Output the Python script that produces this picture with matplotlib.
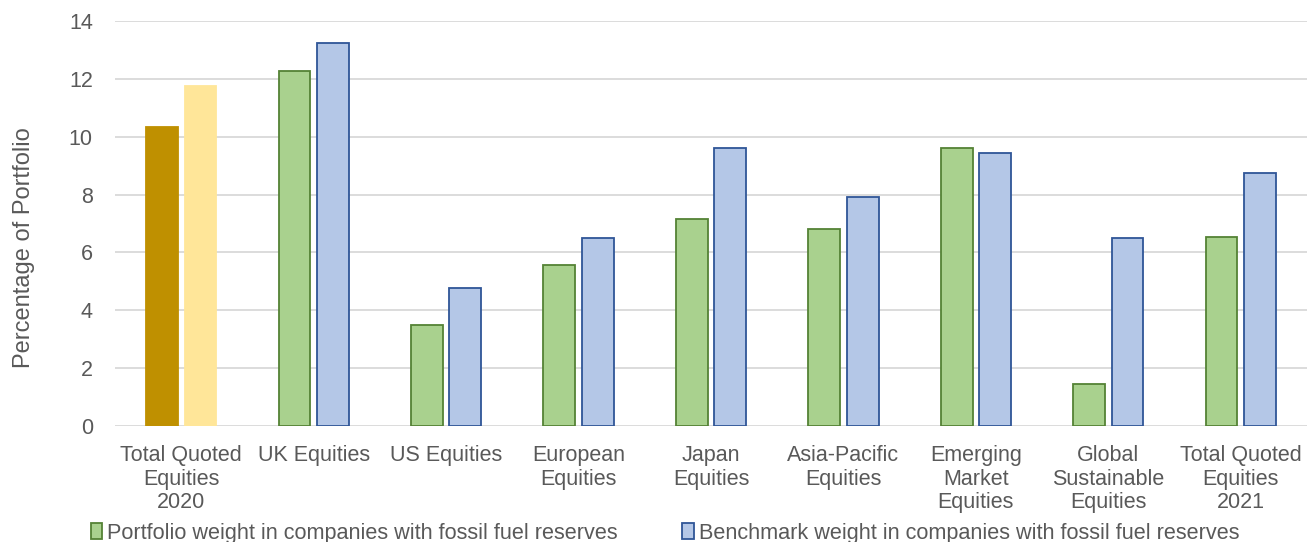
import numpy as np
import matplotlib.pyplot as plt
from matplotlib.patches import Patch

plt.rcParams['font.family'] = ['Liberation Sans', 'DejaVu Sans']

categories = ['Total Quoted\nEquities\n2020', 'UK Equities', 'US Equities', 'European\nEquities',
              'Japan\nEquities', 'Asia-Pacific\nEquities', 'Emerging\nMarket\nEquities',
              'Global\nSustainable\nEquities', 'Total Quoted\nEquities\n2021']
portfolio = [10.35, 12.27, 3.49, 5.57, 7.16, 6.81, 9.61, 1.45, 6.53]
benchmark = [11.75, 13.24, 4.77, 6.50, 9.61, 7.92, 9.44, 6.50, 8.75]

green_fill, green_edge = '#A9D18E', '#548235'
blue_fill, blue_edge = '#B4C7E7', '#2F5597'
text_col = '#595959'

fig = plt.figure(figsize=(13.11, 5.42), dpi=100)
ax = fig.add_axes([115 / 1311, 1 - 426 / 542, 1192 / 1311, 405 / 542])

x = np.arange(len(categories))
w = 0.24
off = 0.145

# 2020 totals use their own colours, the rest share the legend colours
pf_fill = ['#BF9000'] + [green_fill] * 8
pf_edge = ['#BF9000'] + [green_edge] * 8
bm_fill = ['#FFE699'] + [blue_fill] * 8
bm_edge = ['#FFE699'] + [blue_edge] * 8

ax.bar(x - off, portfolio, w, color=pf_fill, edgecolor=pf_edge, linewidth=1.3, zorder=3)
ax.bar(x + off, benchmark, w, color=bm_fill, edgecolor=bm_edge, linewidth=1.3, zorder=3)

ax.set_xlim(-0.5, len(categories) - 0.5)
ax.set_ylim(0, 14)
ax.set_yticks(range(0, 15, 2))
ax.grid(axis='y', color='#D9D9D9', linewidth=1.3, zorder=0)
for s in ax.spines.values():
    s.set_visible(False)
ax.tick_params(length=0, colors=text_col, labelsize=15.5)
ax.tick_params(axis='y', pad=16)
ax.set_xticks(x)
ax.set_xticklabels(categories, linespacing=1.15, va='top')
ax.tick_params(axis='x', pad=14)
ax.set_ylabel('Percentage of Portfolio', color=text_col, fontsize=17)
ax.yaxis.set_label_coords(-0.067, 0.44)

handles = [Patch(facecolor=green_fill, edgecolor=green_edge, linewidth=1.3),
           Patch(facecolor=blue_fill, edgecolor=blue_edge, linewidth=1.3)]
fig.legend(handles, ['Portfolio weight in companies with fossil fuel reserves',
                     'Benchmark weight in companies with fossil fuel reserves'],
           loc='lower left', bbox_to_anchor=(71 / 1311, -0.039), ncol=2, frameon=False,
           fontsize=15.6, labelcolor=text_col, handlelength=0.55, handleheight=0.75,
           handletextpad=0.2, columnspacing=3.0)

fig.savefig('out.png', dpi=100)
